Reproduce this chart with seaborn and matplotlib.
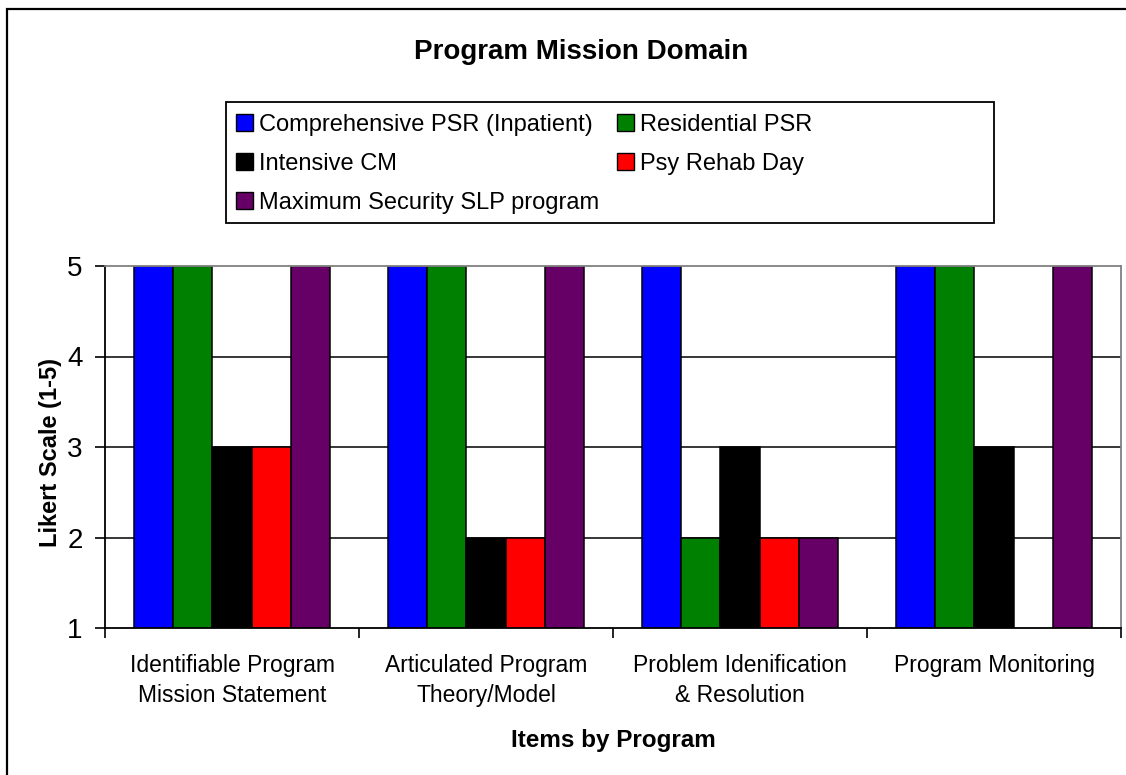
import numpy as np
import pandas as pd
import matplotlib
matplotlib.use("Agg")
import matplotlib.pyplot as plt
from matplotlib.patches import Rectangle
import seaborn as sns

items = ["Identifiable Program\nMission Statement",
         "Articulated Program\nTheory/Model",
         "Problem Idenification\n& Resolution",
         "Program Monitoring"]
programs = ["Comprehensive PSR (Inpatient)", "Residential PSR",
            "Intensive CM", "Psy Rehab Day", "Maximum Security SLP program"]
comprehensive = [5, 5, 5, 5]
residential = [5, 5, 2, 5]
intensive_cm = [3, 2, 3, 3]
psy_rehab = [3, 2, 2, np.nan]
max_security = [5, 5, 2, 5]
colors = ["#0000FF", "#008000", "#000000", "#FF0000", "#660066"]

series = [comprehensive, residential, intensive_cm, psy_rehab, max_security]
rows = []
for prog, vals in zip(programs, series):
    for item, v in zip(items, vals):
        rows.append({"Item": item, "Program": prog, "Score": v})
df = pd.DataFrame(rows)

sns.set_theme(style="white")
plt.rcParams["font.family"] = ["Liberation Sans", "DejaVu Sans"]
for key in ["text.color", "axes.labelcolor", "xtick.color", "ytick.color"]:
    plt.rcParams[key] = "black"

W, H = 1126, 775
fig = plt.figure(figsize=(W / 100, H / 100), dpi=100)
ax = fig.add_axes([105 / W, 1 - 628 / H, 1016 / W, 362 / H])

# grid lines under the bars
for y in [2, 3, 4]:
    ax.axhline(y, color="black", lw=1.1, zorder=0)

sns.barplot(data=df, x="Item", y="Score", hue="Program", order=items,
            hue_order=programs, palette=colors, width=0.77, gap=0,
            edgecolor="black", linewidth=1.1, errorbar=None,
            saturation=1, ax=ax, zorder=2)

ax.set_ylim(1, 5)
ax.set_xlim(-0.5, 3.5)
ax.set_yticks([1, 2, 3, 4, 5])
ax.tick_params(axis="y", left=True, length=7, width=1.2, color="black",
               pad=9, labelsize=20)
ax.set_xticks(range(len(items)))
ax.set_xticklabels(items, fontsize=16.5, linespacing=1.35)
ax.tick_params(axis="x", which="major", length=0, pad=19)
ax.set_xticks(np.arange(-0.5, 4.0, 1.0), minor=True)
ax.tick_params(axis="x", which="minor", bottom=True, length=7, width=1.2,
               color="black")

for side in ["left", "bottom"]:
    ax.spines[side].set_color("black")
    ax.spines[side].set_linewidth(1.3)
for side in ["top", "right"]:
    ax.spines[side].set_color("#808080")
    ax.spines[side].set_linewidth(1.3)

ax.set_xlabel("Items by Program", fontsize=17.5, fontweight="bold", labelpad=16)
ax.set_ylabel("Likert Scale (1-5)", fontsize=17, fontweight="bold")
ax.yaxis.set_label_coords(-0.042, 0.484)

fig.text(581 / W, 1 - 52 / H, "Program Mission Domain", ha="center",
         va="center", fontsize=20, fontweight="bold")

handles, labels = ax.get_legend_handles_labels()
ax.legend_.remove()
for h in handles:
    h.set_linewidth(1.0)
order = [0, 2, 4, 1, 3]  # row-major reading like the original
leg = fig.legend([handles[i] for i in order], [labels[i] for i in order],
                 ncol=2, loc="upper left", bbox_to_anchor=(236 / W, 1 - 114 / H),
                 frameon=False, fontsize=17, handlelength=0.72,
                 handleheight=0.72, handletextpad=0.25, columnspacing=0.75,
                 labelspacing=0.72, borderpad=0, borderaxespad=0)

# legend box, wider than its entries as in the original
fig.patches.append(Rectangle((226 / W, 1 - 223 / H), 768 / W, 121 / H,
                             transform=fig.transFigure, fill=False,
                             edgecolor="black", linewidth=1.3))

# outer chart border
fig.patches.append(Rectangle((7 / W, -0.05), 1.1, 1 - 9 / H + 0.05,
                             transform=fig.transFigure, fill=False,
                             edgecolor="black", linewidth=1.6))

fig.savefig("out.png", dpi=100)
